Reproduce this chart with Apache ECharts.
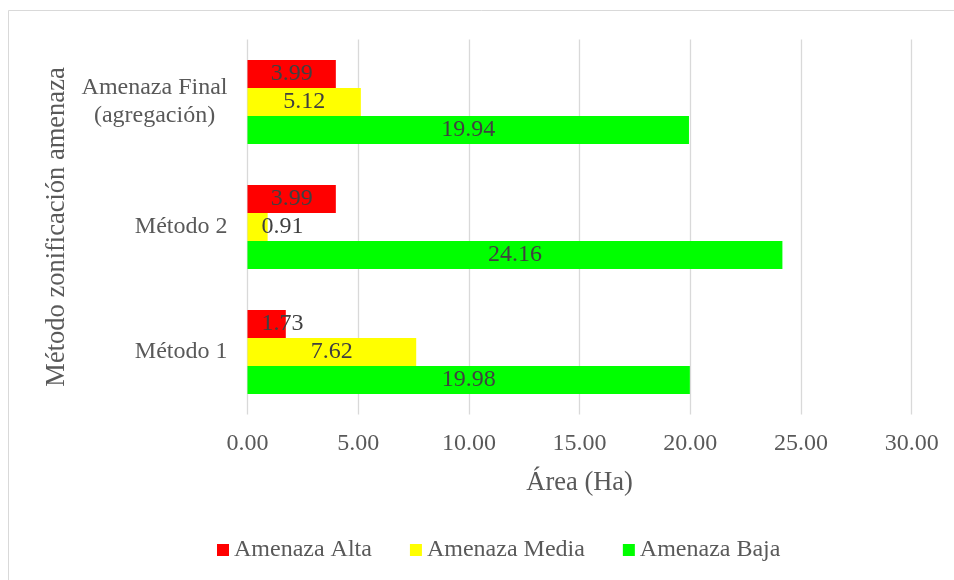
<!DOCTYPE html>
<html>
<head>
<meta charset="utf-8">
<script src="https://cdn.jsdelivr.net/npm/echarts@6/dist/echarts.min.js"></script>
<style>
  html, body { margin: 0; padding: 0; background: #fff; }
  #chart { width: 954px; height: 580px; }
</style>
</head>
<body>
<div id="chart"></div>
<script>
// datos del gráfico
var categorias = ['Método 1', 'Método 2', 'Amenaza Final\n(agregación)'];
var amenazaAlta = [1.73, 3.99, 3.99];
var amenazaMedia = [7.62, 0.91, 5.12];
var amenazaBaja = [19.98, 24.16, 19.94];
var ticksX = [0, 5, 10, 15, 20, 25, 30];

var fuente = '"Liberation Serif", "Times New Roman", serif';

// barras pequeñas: etiqueta pegada al inicio
function armarDatos(valores) {
    return valores.map(function (v) {
        if (v < 2) {
            return {value: v, label: {position: 'insideLeft', distance: 14}};
        }
        return v;
    });
}

function serie(nombre, color, valores) {
    return {
        name: nombre,
        type: 'bar',
        barWidth: 28,
        barGap: '0%',
        itemStyle: {color: color},
        label: {
            show: true,
            position: 'inside',
            color: '#404040',
            fontFamily: fuente,
            fontSize: 24,
            formatter: function (p) { return p.value.toFixed(2); }
        },
        data: armarDatos(valores)
    };
}

var myChart = echarts.init(document.getElementById('chart'));
var option = {
    animation: false,
    backgroundColor: '#fff',
    textStyle: {fontFamily: fuente},
    graphic: [{
        type: 'rect',
        shape: {x: 8.5, y: 10.5, width: 980, height: 600},
        style: {fill: 'none', stroke: '#d9d9d9', lineWidth: 1}
    }],
    grid: {left: 247.5, right: 42.3, top: 39.5, bottom: 165.5},
    legend: {
        data: ['Amenaza Alta', 'Amenaza Media', 'Amenaza Baja'],
        left: 217,
        top: 538,
        padding: 0,
        itemWidth: 12,
        itemHeight: 12,
        itemGap: 38,
        icon: 'rect',
        textStyle: {color: '#595959', fontFamily: fuente, fontSize: 24, lineHeight: 24}
    },
    xAxis: {
        type: 'value',
        min: ticksX[0],
        max: ticksX[ticksX.length - 1],
        interval: 5,
        name: 'Área (Ha)',
        nameLocation: 'middle',
        nameGap: 55,
        nameTextStyle: {color: '#595959', fontFamily: fuente, fontSize: 26.5},
        axisLine: {show: false},
        axisTick: {show: false},
        axisLabel: {
            color: '#595959',
            fontFamily: fuente,
            fontSize: 24,
            margin: 17,
            formatter: function (v) { return v.toFixed(2); }
        },
        splitLine: {show: true, lineStyle: {color: '#d9d9d9', width: 1.3}}
    },
    yAxis: {
        type: 'category',
        data: categorias,
        name: 'Método zonificación amenaza',
        nameLocation: 'middle',
        nameGap: 167,
        nameTextStyle: {color: '#595959', fontFamily: fuente, fontSize: 26.5},
        axisLine: {show: false},
        axisTick: {show: false},
        axisLabel: {
            color: '#595959',
            fontFamily: fuente,
            fontSize: 24,
            lineHeight: 28,
            margin: 20,
            formatter: function (v) {
                return v.split('\n').map(function (s) { return '{c|' + s + '}'; }).join('\n');
            },
            rich: {c: {align: 'center', fontSize: 24, lineHeight: 28, color: '#595959', fontFamily: fuente}}
        }
    },
    series: [
        serie('Amenaza Alta', '#ff0000', amenazaAlta),
        serie('Amenaza Media', '#ffff00', amenazaMedia),
        serie('Amenaza Baja', '#00ff00', amenazaBaja)
    ]
};
myChart.setOption(option);
</script>
</body>
</html>
